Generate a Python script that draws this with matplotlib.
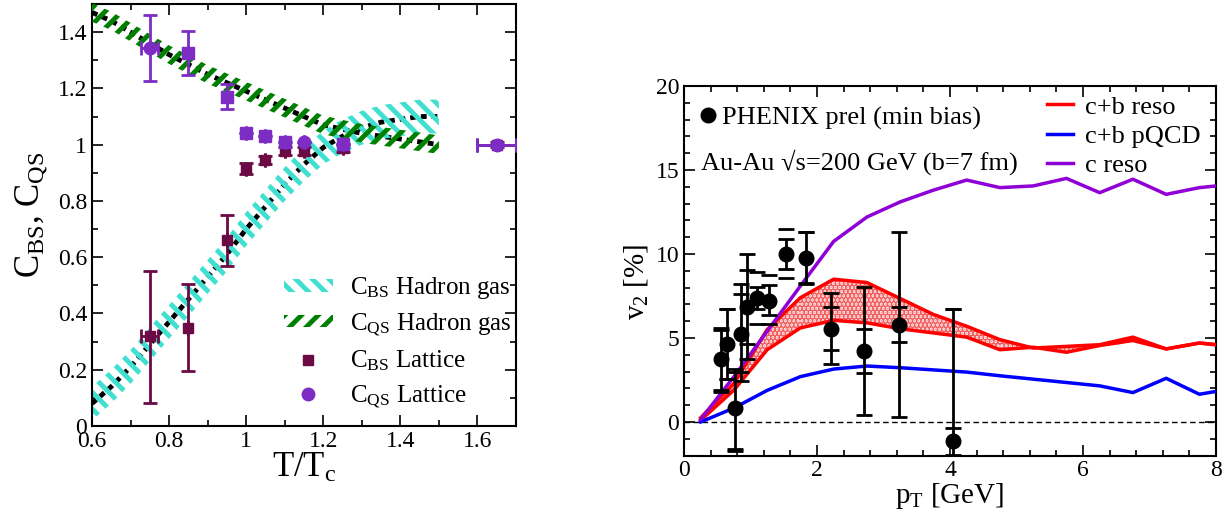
import numpy as np
import matplotlib
matplotlib.use('Agg')
import matplotlib.pyplot as plt
from matplotlib.patches import Patch
from matplotlib.lines import Line2D

plt.rcParams['font.family'] = ['Liberation Serif', 'DejaVu Serif']
plt.rcParams['mathtext.fontset'] = 'custom'
plt.rcParams['mathtext.rm'] = 'Liberation Serif'
plt.rcParams['mathtext.it'] = 'Liberation Serif:italic'
plt.rcParams['hatch.linewidth'] = 3.5

# ---- left panel: susceptibility ratios ----
t_hg   = [0.6, 0.65, 0.7, 0.75, 0.8, 0.85, 0.9, 0.95, 1.0, 1.05, 1.1, 1.15, 1.2, 1.25, 1.3, 1.35, 1.4, 1.45, 1.5]
cbs_hg = [0.08, 0.14, 0.21, 0.29, 0.37, 0.45, 0.53, 0.61, 0.70, 0.78, 0.86, 0.93, 0.99, 1.03, 1.06, 1.08, 1.09, 1.10, 1.10]
cqs_hg = [1.47, 1.44, 1.40, 1.36, 1.32, 1.285, 1.25, 1.22, 1.19, 1.16, 1.13, 1.10, 1.07, 1.055, 1.04, 1.03, 1.02, 1.01, 1.00]
cbs_hw = 0.06
cqs_hw = 0.033

t_bs   = [0.75, 0.85, 0.95, 1.0, 1.05, 1.1, 1.15, 1.25, 1.65]
bs     = [0.32, 0.35, 0.66, 0.915, 0.945, 0.978, 0.978, 0.988, 1.0]
bs_lo  = [0.08, 0.195, 0.57, 0.895, 0.93, 0.965, 0.965, 0.975, 0.99]
bs_hi  = [0.55, 0.505, 0.75, 0.935, 0.96, 0.99, 0.99, 1.0, 1.01]
bs_xe  = [0.022, 0.0, 0.0, 0.0, 0.0, 0.0, 0.0, 0.0, 0.05]

t_qs   = [0.75, 0.85, 0.95, 1.0, 1.05, 1.1, 1.15, 1.25, 1.65]
qs     = [1.343, 1.326, 1.169, 1.043, 1.03, 1.01, 1.01, 1.003, 1.0]
qs_lo  = [1.226, 1.246, 1.128, 1.043, 1.03, 1.01, 1.01, 1.003, 1.0]
qs_hi  = [1.462, 1.403, 1.217, 1.043, 1.03, 1.01, 1.01, 1.003, 1.0]
qs_xe  = [0.022, 0.0, 0.0, 0.0, 0.0, 0.0, 0.0, 0.0, 0.05]
qs_mk  = ['o', 's', 's', 's', 's', 's', 'o', 's', 'o']

# ---- right panel: heavy flavour v2 ----
pt_th   = [0.25, 0.75, 1.25, 1.75, 2.25, 2.75, 3.25, 3.75, 4.25, 4.75, 5.25, 5.75, 6.25, 6.75, 7.25, 7.75, 8.0]
cb_hi   = [0.25, 2.3, 5.5, 7.4, 8.5, 8.3, 7.35, 6.4, 5.7, 4.9, 4.4, 4.5, 4.6, 5.05, 4.35, 4.7, 4.6]
cb_lo   = [0.1, 1.9, 4.3, 5.6, 6.05, 5.9, 5.55, 5.3, 5.05, 4.3, 4.45, 4.15, 4.55, 4.85, 4.35, 4.7, 4.6]
cb_pqcd = [0.0, 0.83, 1.88, 2.7, 3.15, 3.33, 3.23, 3.1, 2.97, 2.75, 2.55, 2.35, 2.15, 1.75, 2.6, 1.65, 1.82]
c_reso  = [0.15, 2.7, 5.4, 8.1, 10.75, 12.2, 13.1, 13.8, 14.4, 13.95, 14.05, 14.5, 13.65, 14.45, 13.55, 13.95, 14.05]

phx_pt  = [0.55, 0.65, 0.76, 0.85, 0.95, 1.10, 1.28, 1.53, 1.83, 2.21, 2.71, 3.23, 4.04]
phx_v2  = [3.75, 4.63, 0.82, 5.26, 6.85, 7.38, 7.22, 10.0, 9.74, 5.56, 4.23, 5.80, -1.14]
stat_lo = [1.80, 2.58, -1.72, 2.44, 3.73, 6.75, 6.36, 9.08, 8.2, 3.43, 0.43, 0.29, -1.94]
stat_hi = [5.60, 6.72, 3.17, 8.21, 10.0, 8.05, 8.15, 10.87, 11.29, 7.65, 8.05, 11.29, 6.74]
sys_lo  = [1.92, 2.58, -1.6, 2.98, 4.63, 5.86, 5.86, 8.59, 8.29, 4.27, 2.92, 4.77, -0.37]
sys_hi  = [5.45, 6.72, 3.0, 7.61, 9.05, 8.94, 8.75, 11.47, 11.29, 6.86, 5.52, 6.86, 6.74]

turq = '#40e0d0'
green = '#008000'
maroon = '#6b0a45'
purple = '#7d2cc4'
serif = 'Liberation Serif'

fig = plt.figure(figsize=(12.25, 5.18), dpi=100)
ax1 = fig.add_axes([0.0751, 0.1776, 0.3461, 0.8147])
ax2 = fig.add_axes([0.5584, 0.1205, 0.4343, 0.7135])

def style_axes(ax):
    ax.tick_params(which='both', direction='in', top=True, right=True, labelsize=17, width=1.2,
                   labelfontfamily=serif)
    ax.tick_params(which='major', length=8)
    ax.tick_params(which='minor', length=4)
    for lab in ax.get_xticklabels() + ax.get_yticklabels():
        lab.set_fontfamily(serif)
    for s in ax.spines.values():
        s.set_linewidth(1.5)

# left
t = np.array(t_hg)
ax1.plot(t, cbs_hg, color='k', lw=3.5, ls=(0, (1.2, 1.0)), zorder=1)
ax1.plot(t, cqs_hg, color='k', lw=3.5, ls=(0, (1.2, 1.0)), zorder=1)
ax1.fill_between(t, np.array(cbs_hg) - cbs_hw, np.array(cbs_hg) + cbs_hw, facecolor='none',
                 edgecolor=turq, hatch='\\\\', linewidth=0, zorder=2)
ax1.fill_between(t, np.array(cqs_hg) - cqs_hw, np.array(cqs_hg) + cqs_hw, facecolor='none',
                 edgecolor=green, hatch='//', linewidth=0, zorder=3)

bs_a = np.array(bs)
ax1.errorbar(t_bs, bs, yerr=[bs_a - bs_lo, np.array(bs_hi) - bs_a], xerr=bs_xe, fmt='s', ms=7.5,
             color=maroon, ecolor=maroon, elinewidth=2, capsize=5, capthick=2, zorder=4)
qs_a = np.array(qs)
ax1.errorbar(t_qs, qs, yerr=[qs_a - qs_lo, np.array(qs_hi) - qs_a], xerr=qs_xe, fmt='none',
             ecolor=purple, elinewidth=2, capsize=5, capthick=2, zorder=5)
for x, y, m in zip(t_qs, qs, qs_mk):
    ax1.plot(x, y, marker=m, ms=9 if m == 'o' else 8, color=purple, ls='none', zorder=6)

ax1.set_xlim(0.6, 1.7)
ax1.set_ylim(0, 1.5)
ax1.set_xticks(np.arange(0.6, 1.61, 0.2))
ax1.set_xticks(np.arange(0.6, 1.71, 0.1), minor=True)
ax1.set_yticks(np.arange(0, 1.41, 0.2))
ax1.set_yticks(np.arange(0, 1.51, 0.1), minor=True)
ax1.xaxis.set_major_formatter(matplotlib.ticker.FormatStrFormatter('%g'))
ax1.yaxis.set_major_formatter(matplotlib.ticker.FormatStrFormatter('%g'))
style_axes(ax1)
ax1.set_xlabel(r'T/T$_\mathrm{c}$', fontsize=25, labelpad=0)
ax1.set_ylabel(r'C$_\mathrm{BS}$, C$_\mathrm{QS}$', fontsize=25, labelpad=6)

h1 = [Patch(facecolor='none', edgecolor=turq, hatch='\\\\', linewidth=0),
      Patch(facecolor='none', edgecolor=green, hatch='//', linewidth=0),
      Line2D([], [], marker='s', ms=7.5, color=maroon, ls='none'),
      Line2D([], [], marker='o', ms=9, color=purple, ls='none')]
l1 = [r'C$_\mathrm{BS}$ Hadron gas', r'C$_\mathrm{QS}$ Hadron gas',
      r'C$_\mathrm{BS}$ Lattice', r'C$_\mathrm{QS}$ Lattice']
ax1.legend(h1, l1, loc='upper left', bbox_to_anchor=(0.453, 0.357), frameon=False, fontsize=18,
           handlelength=1.95, handleheight=0.4, labelspacing=0.4, handletextpad=0.7,
           borderpad=0, borderaxespad=0)

# right
ax2.axhline(0, color='k', lw=1, ls=(0, (4, 2.5)), zorder=1)
ax2.fill_between(pt_th, cb_lo, cb_hi, facecolor='#ffd9d9', edgecolor='#f06060', hatch='....',
                 linewidth=0, zorder=2)
ax2.plot(pt_th, cb_hi, color='#ff0000', lw=2.5, zorder=3)
ax2.plot(pt_th, cb_lo, color='#ff0000', lw=2.5, zorder=3)
ax2.plot(pt_th, cb_pqcd, color='#0000ff', lw=2.5, zorder=3)
ax2.plot(pt_th, c_reso, color='#8f00d6', lw=2.5, zorder=3)

v = np.array(phx_v2)
ax2.errorbar(phx_pt, phx_v2, yerr=[v - stat_lo, np.array(stat_hi) - v], fmt='none', ecolor='k',
             elinewidth=2, capsize=6, capthick=2, zorder=4)
# systematic brackets: caps only
ax2.plot(phx_pt, sys_lo, ls='none', marker='_', ms=12, mew=2, color='k', zorder=4)
ax2.plot(phx_pt, sys_hi, ls='none', marker='_', ms=12, mew=2, color='k', zorder=4)
pts = ax2.plot(phx_pt, phx_v2, 'o', color='k', ms=10.5, zorder=5, ls='none')[0]

ax2.set_xlim(0, 8)
ax2.set_ylim(-2, 20)
ax2.set_xticks([0, 2, 4, 6, 8])
ax2.set_xticks(np.arange(0, 8.01, 0.4), minor=True)
ax2.set_yticks([0, 5, 10, 15, 20])
ax2.set_yticks(np.arange(-2, 20.01, 1), minor=True)
style_axes(ax2)
ax2.set_xlabel(r'p$_\mathrm{T}$ [GeV]', fontsize=21, labelpad=0)
ax2.set_ylabel(r'v$_2$ [%]', fontsize=21)
ax2.yaxis.set_label_coords(-0.064, 0.47)

leg_a = ax2.legend([pts], ['PHENIX prel (min bias)'], loc='center left', bbox_to_anchor=(0.032, 0.913),
                   frameon=False, fontsize=19, handlelength=0.5, handletextpad=0.3,
                   borderpad=0, borderaxespad=0)
ax2.add_artist(leg_a)
ax2.text(0.032, 0.795, 'Au-Au √s=200 GeV (b=7 fm)', transform=ax2.transAxes, fontsize=19, va='center')
h2 = [Line2D([], [], color='#ff0000', lw=2.5), Line2D([], [], color='#0000ff', lw=2.5),
      Line2D([], [], color='#8f00d6', lw=2.5)]
ax2.legend(h2, ['c+b reso', 'c+b pQCD', 'c reso'], loc='upper left', bbox_to_anchor=(0.682, 0.975),
           frameon=False, fontsize=19, handlelength=1.0, handletextpad=0.45, labelspacing=0.22,
           borderpad=0, borderaxespad=0)

fig.savefig('out.png', dpi=100)
